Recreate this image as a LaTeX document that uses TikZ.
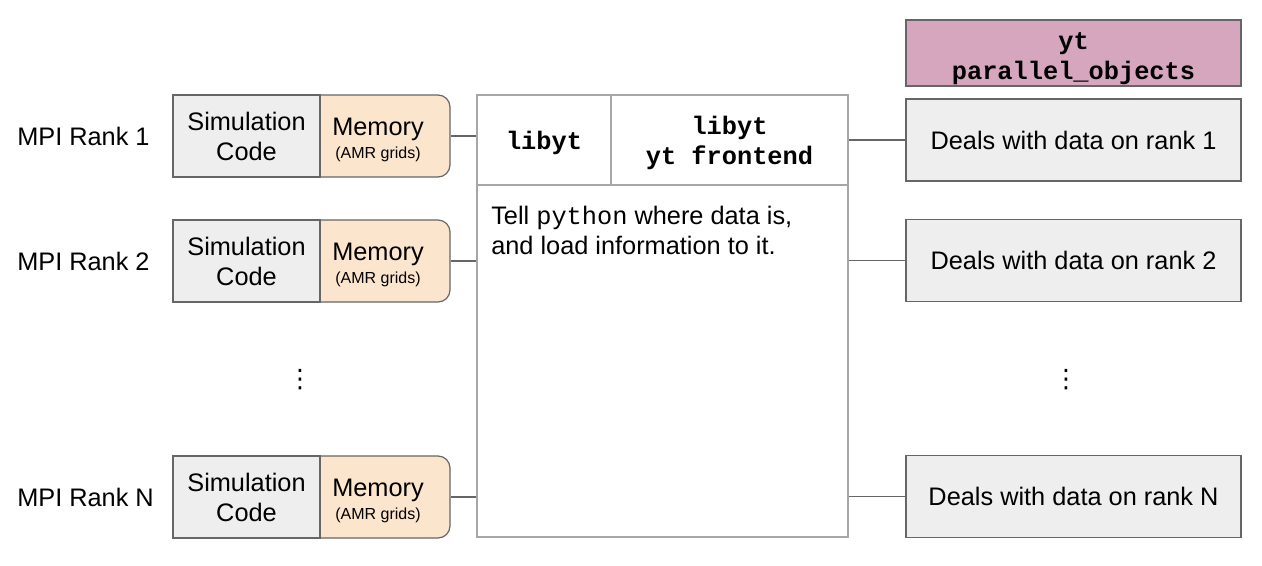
\documentclass[tikz,border=0pt]{standalone}
\usepackage{fontspec}
\setmainfont{Liberation Sans}
\setmonofont{Liberation Mono}
\newfontfamily\dejavu{DejaVu Sans}
\definecolor{boxgray}{HTML}{EEEEEE}
\definecolor{peach}{HTML}{FCE5CD}
\definecolor{pinkbox}{HTML}{D5A6BD}
\definecolor{edge}{HTML}{666666}
\definecolor{lightedge}{HTML}{A6A6A6}
\tikzset{
  simbox/.style={draw=edge, fill=boxgray, line width=0.9pt, minimum width=110.25pt, minimum height=61.5pt, inner sep=0pt, align=center, font=\fontsize{19}{22.5}\selectfont},
  membox/.style={draw=edge, fill=peach, line width=0.9pt, rounded corners=9pt, minimum width=108pt, minimum height=61.5pt, inner sep=0pt, align=center},
  rightbox/.style={draw=edge, fill=boxgray, line width=0.9pt, minimum width=251.25pt, minimum height=61.5pt, inner sep=0pt, font=\fontsize{19}{22.5}\selectfont},
  rankl/.style={anchor=west, inner sep=0pt, font=\fontsize{19}{22.5}\selectfont},
  conn/.style={draw=edge, line width=0.8pt},
  dots/.style={inner sep=0pt, font=\dejavu\fontsize{19}{22.5}\selectfont}
}
\begin{document}
\begin{tikzpicture}[x=0.75pt,y=-0.75pt]
\useasboundingbox (0,0) rectangle (1262,565);
% center box
\node[draw=lightedge, line width=0.9pt, minimum width=278.25pt, minimum height=331.5pt, inner sep=0pt] (core) at (662.5,316) {};
\coordinate (hl) at (477,185);
\coordinate (hr) at (848,185);
\coordinate (vt) at (611,95);
\coordinate (vb) at (611,185);
\draw[draw=lightedge, line width=0.9pt] (hl) -- (hr);
\draw[draw=lightedge, line width=0.9pt] (vt) -- (vb);
\node[inner sep=0pt, font=\ttfamily\bfseries\fontsize{19}{22.5}\selectfont] (lib) at (544,142.5) {libyt};
\node[inner sep=0pt, align=center, font=\ttfamily\bfseries\fontsize{19}{22.5}\selectfont] (front) at (729.5,142.5) {libyt\\yt frontend};
\node[inner sep=0pt, anchor=west, align=left, font=\fontsize{19}{22.5}\selectfont] (tell) at (491,230) {Tell {\ttfamily python} where data is,\\and load information to it.};
% ranks
\foreach \i/\y/\lab in {1/136/1, 2/261/2, N/497/N}{
  \node[rankl] (rank\i) at (17,\y) {MPI Rank \lab};
  \node[membox] (mem\i) at (378,\y) {{\fontsize{19}{22.5}\selectfont\rule{0pt}{19pt}Memory}\\[3.5pt]{\fontsize{12}{14}\selectfont (AMR grids)}};
  \node[simbox] (sim\i) at (246.5,\y) {Simulation\\Code};
  \draw[conn] (mem\i.east) -- (core.west |- mem\i.east);
}
% right
\node[draw=edge, fill=pinkbox, line width=0.9pt, minimum width=251.25pt, minimum height=49.5pt, inner sep=0pt, align=center, font=\ttfamily\bfseries\fontsize{19}{22.5}\selectfont] (par) at (1073.5,53) {\rule{0pt}{21pt}yt\\parallel\_objects};
\node[rightbox] (r1) at (1073.5,140) {Deals with data on rank 1};
\node[rightbox] (r2) at (1073.5,260.5) {Deals with data on rank 2};
\node[rightbox] (rN) at (1073.5,496.5) {Deals with data on rank N};
\draw[conn] (r1.west) -- (core.east |- r1.west);
\draw[conn] (r2.west) -- (core.east |- r2.west);
\draw[conn] (rN.west) -- (core.east |- rN.west);
% dots
\node[dots] (ldots) at (300,380) {⋮};
\node[dots] (rdots) at (1066,380) {⋮};
\end{tikzpicture}
\end{document}
